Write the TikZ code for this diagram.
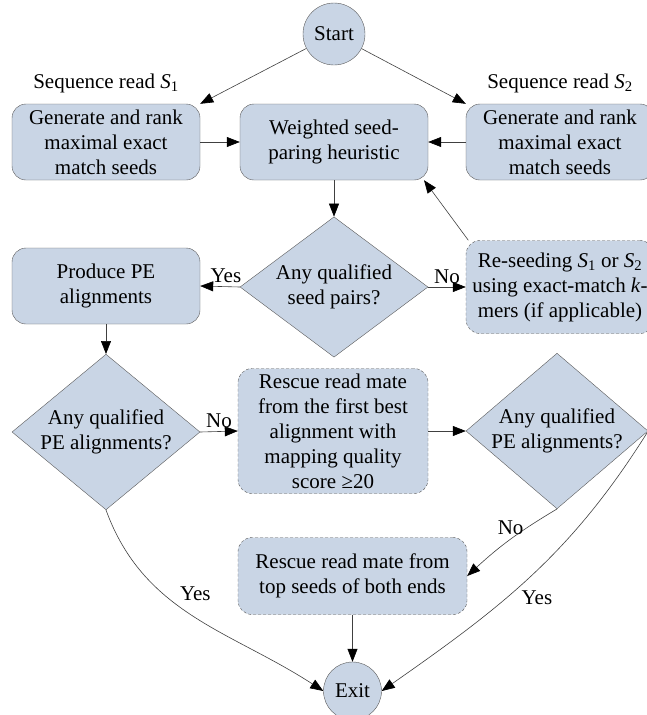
\documentclass[tikz,border=0pt]{standalone}
\usepackage{fontspec}
\setmainfont{Liberation Serif}
\usepackage{tikz}
\usetikzlibrary{
  arrows.meta,
  positioning,
  shapes.geometric,
}
\definecolor{boxblue}{RGB}{201, 213, 229}
\definecolor{edgegray}{RGB}{90, 90, 90}
\tikzstyle{arrow} = [
  -{Triangle[length=13pt, width=10pt, black]},
  line width=0.6pt,
  draw=black!75,
]
\tikzstyle{block} = [
  rectangle,
  rounded corners=14pt,
  draw=edgegray,
  fill=boxblue,
  align=center,
  minimum width=188pt,
  minimum height=76pt,
  inner sep=3pt,
]
\tikzstyle{softblock} = [block, dash pattern=on 3pt off 2pt]
\tikzstyle{decision} = [
  diamond,
  draw=edgegray,
  fill=boxblue,
  align=center,
  minimum width=188pt,
  minimum height=130pt,
  inner sep=-5pt,
]
\tikzstyle{terminal} = [circle, draw=edgegray, fill=boxblue, inner sep=0pt]
\newcommand{\readS}[1]{\textit{S}\textsubscript{#1}}

\begin{document}
\begin{tikzpicture}[x=1pt, y=1pt, font=\fontsize{21}{25}\selectfont]
  \useasboundingbox (0, 0) rectangle (646, -715);

  \node [terminal, minimum size=62pt] (start) at (334, -34) {Start};

  \node [block] (gen1) at (106, -142) {Generate and rank\\maximal exact\\match seeds};
  \node [block] (mid) at (334, -142) {Weighted seed-\\paring heuristic};
  \node [block] (gen2) at (560, -142) {Generate and rank\\maximal exact\\match seeds};
  \node [above=7pt of gen1] (lab1) {Sequence read \readS{1}};
  \node [above=7pt of gen2] (lab2) {Sequence read \readS{2}};

  \node [decision] (dec1) at (334, -287) {Any qualified\\seed pairs?};
  \node [block] (produce) at (106, -286) {Produce PE\\alignments};
  \node [softblock, minimum height=93pt] (reseed) at (560, -287)
    {Re-seeding \readS{1} or \readS{2}\\using exact-match \textit{k}-\\mers (if applicable)};

  \node [decision] (dec2) at (106, -432) {Any qualified\\PE alignments?};
  \node [softblock, minimum width=190pt, minimum height=125pt] (rescue1) at (333, -431)
    {Rescue read mate\\from the first best\\alignment with\\mapping quality\\score ≥20};
  \node [decision, minimum width=182pt, minimum height=132pt] (dec3) at (557, -431)
    {Any qualified\\PE alignments?};

  \node [softblock, minimum width=229pt, minimum height=77pt] (rescue2) at (352.5, -576)
    {Rescue read mate from\\top seeds of both ends};
  \node [terminal, minimum size=58pt] (exit) at (352.5, -691) {Exit};

  \draw [arrow] (start) -- (gen1.north east);
  \draw [arrow] (start) -- (gen2.north west);
  \draw [arrow] (gen1) -- (mid);
  \draw [arrow] (gen2) -- (mid);
  \draw [arrow] (mid) -- (dec1);
  \draw [arrow] (dec1.west) -- node [above, pos=0.35] {Yes} (produce.east);
  \draw [arrow] (dec1.east) -- node [above] {No} (reseed.west);
  \draw [arrow] (reseed.153) -- (mid.337);
  \draw [arrow] (produce) -- (dec2);
  \draw [arrow] (dec2.east) -- node [above] {No} (rescue1.west);
  \draw [arrow] (rescue1.east) -- (dec3.west);
  \draw [arrow] (dec3.south) to [bend right=6] node [left, pos=0.3] {No} (rescue2.east);
  \draw [arrow] (dec3.east) to [out=238, in=35] node [below right, pos=0.55] {Yes} (exit.east);
  \draw [arrow] (dec2.south) to [out=-70, in=147] node [above right, pos=0.42] {Yes} (exit.west);
  \draw [arrow] (rescue2) -- (exit);
\end{tikzpicture}
\end{document}
